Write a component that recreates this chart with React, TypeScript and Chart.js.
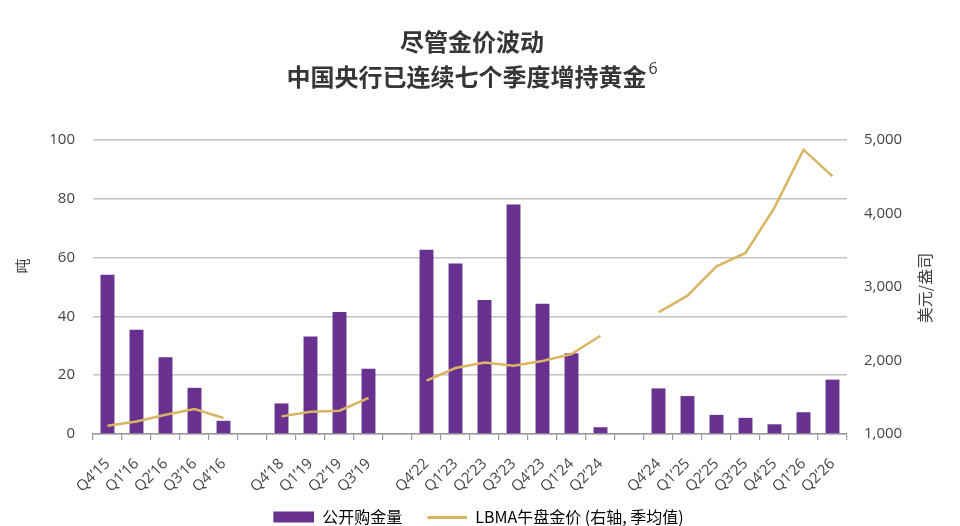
import React, { useEffect, useRef } from "react";
import { Chart, registerables } from "chart.js";

Chart.register(...registerables);

const categories = [
  "Q4’15", "Q1’16", "Q2’16", "Q3’16", "Q4’16", "",
  "Q4’18", "Q1’19", "Q2’19", "Q3’19", "",
  "Q4’22", "Q1’23", "Q2’23", "Q3’23", "Q4’23", "Q1’24", "Q2’24", "",
  "Q4’24", "Q1’25", "Q2’25", "Q3’25", "Q4’25", "Q1’26", "Q2’26",
];

const purchases = [
  54.2, 35.5, 26.1, 15.7, 4.5, null,
  10.4, 33.2, 41.5, 22.2, null,
  62.7, 58.0, 45.6, 78.1, 44.3, 27.5, 2.3, null,
  15.5, 12.9, 6.5, 5.5, 3.3, 7.4, 18.5,
];

const goldPrice = [
  1113, 1171, 1263, 1340, 1218, null,
  1240, 1303, 1317, 1490, null,
  1725, 1898, 1974, 1929, 1993, 2088, 2337, null,
  2655, 2882, 3281, 3463, 4080, 4868, 4505,
];

const titleLine1 = "尽管金价波动";
const titleLine2 = "中国央行已连续七个季度增持黄金";
const titleSup = "6";
const leftAxisTitle = "吨";
const rightAxisTitle = "美元/盎司";
const barLabel = "公开购金量";
const lineLabel = "LBMA午盘金价 (右轴, 季均值)";

const PURPLE = "#68308f";
const GOLD = "#d9b563";
const TEXT = "#444444";
const FONT = "'Open Sans', 'Noto Sans CJK SC', sans-serif";
const CJK = "'Noto Sans CJK SC', 'Open Sans', sans-serif";

function makeSwatch(kind: "bar" | "line"): HTMLCanvasElement {
  const c = document.createElement("canvas");
  c.width = 50;
  c.height = 12;
  const g = c.getContext("2d")!;
  if (kind === "bar") {
    g.fillStyle = PURPLE;
    g.fillRect(9, 0.5, 41, 11);
  } else {
    g.strokeStyle = GOLD;
    g.lineWidth = 3;
    g.beginPath();
    g.moveTo(10, 6.5);
    g.lineTo(50, 6.5);
    g.stroke();
  }
  return c;
}

const textPlugin = {
  id: "customTexts",
  afterDraw(chart: any) {
    const ctx = chart.ctx as CanvasRenderingContext2D;
    ctx.save();
    ctx.fillStyle = "#363636";
    ctx.textBaseline = "middle";
    ctx.font = `bold 24px ${CJK}`;
    ctx.textAlign = "center";
    ctx.fillText(titleLine1, 472, 42);
    const w2 = ctx.measureText(titleLine2).width;
    ctx.font = `16px ${FONT}`;
    const ws = ctx.measureText(titleSup).width;
    const total = w2 + 2 + ws;
    const x0 = 472 - total / 2;
    ctx.textAlign = "left";
    ctx.font = `bold 24px ${CJK}`;
    ctx.fillText(titleLine2, x0, 77);
    ctx.font = `16px ${FONT}`;
    ctx.fillText(titleSup, x0 + w2 + 2, 69);

    ctx.fillStyle = TEXT;
    ctx.textAlign = "center";
    ctx.font = `15px ${CJK}`;
    ctx.save();
    ctx.translate(22, 266);
    ctx.rotate(-Math.PI / 2);
    ctx.fillText(leftAxisTitle, 0, 0);
    ctx.restore();
    ctx.save();
    ctx.translate(925, 288);
    ctx.rotate(-Math.PI / 2);
    ctx.font = `16px ${CJK}`;
    ctx.fillText(rightAxisTitle, 0, 0);
    ctx.restore();
    ctx.restore();
  },
};

export default function App() {
  const ref = useRef<HTMLCanvasElement | null>(null);

  useEffect(() => {
    if (!ref.current) return;
    const barSwatch = makeSwatch("bar");
    const lineSwatch = makeSwatch("line");
    const chart = new Chart(ref.current, {
      data: {
        labels: categories,
        datasets: [
          {
            type: "line",
            label: lineLabel,
            data: goldPrice,
            yAxisID: "y1",
            borderColor: GOLD,
            backgroundColor: GOLD,
            borderWidth: 2.5,
            pointRadius: 0,
            tension: 0,
            spanGaps: false,
            order: 0,
          },
          {
            type: "bar",
            label: barLabel,
            data: purchases,
            yAxisID: "y",
            backgroundColor: PURPLE,
            borderWidth: 0,
            barPercentage: 0.48,
            categoryPercentage: 1.0,
            order: 1,
          },
        ],
      } as any,
      options: {
        responsive: false,
        animation: false,
        events: [],
        layout: { padding: { top: 140, left: 0, right: 12, bottom: -9 } },
        font: { family: FONT },
        plugins: {
          title: { display: false },
          tooltip: { enabled: false },
          legend: {
            display: true,
            position: "bottom",
            labels: {
              usePointStyle: true,
              pointStyleWidth: 50,
              padding: 15,
              color: TEXT,
              font: { size: 16, family: CJK },
              generateLabels: () => [
                {
                  text: barLabel,
                  pointStyle: barSwatch,
                  fillStyle: PURPLE,
                  strokeStyle: PURPLE,
                  lineWidth: 0,
                  hidden: false,
                  datasetIndex: 1,
                },
                {
                  text: lineLabel,
                  pointStyle: lineSwatch,
                  fillStyle: GOLD,
                  strokeStyle: GOLD,
                  lineWidth: 0,
                  hidden: false,
                  datasetIndex: 0,
                },
              ],
            },
          },
        },
        scales: {
          x: {
            type: "category",
            offset: true,
            grid: {
              offset: true,
              drawOnChartArea: false,
              drawTicks: true,
              tickLength: 6,
              color: "#9a9a9a",
              lineWidth: 1.2,
            },
            border: { display: true, color: "#9a9a9a", width: 1.5 },
            ticks: {
              autoSkip: false,
              maxRotation: 45,
              minRotation: 45,
              padding: 15,
              color: TEXT,
              font: { size: 15, family: FONT },
            },
            afterFit: (s: any) => {
              s.height = 60;
            },
          },
          y: {
            type: "linear",
            position: "left",
            min: 0,
            max: 100,
            ticks: {
              stepSize: 20,
              padding: 18,
              color: TEXT,
              font: { size: 15, family: FONT },
            },
            grid: { color: "#c2c2c2", lineWidth: 1.5, drawTicks: false },
            border: { display: false },
            afterFit: (s: any) => {
              s.width = 93;
            },
          },
          y1: {
            type: "linear",
            position: "right",
            min: 1000,
            max: 5000,
            ticks: {
              stepSize: 1000,
              padding: 17,
              color: TEXT,
              font: { size: 15, family: FONT },
              callback: (v: any) => Number(v).toLocaleString("en-US"),
            },
            grid: { display: false, drawTicks: false },
            border: { display: false },
            afterFit: (s: any) => {
              s.width = 101;
            },
          },
        },
      } as any,
      plugins: [textPlugin],
    });
    return () => chart.destroy();
  }, []);

  return (
    <div
      style={{
        position: "fixed",
        left: 0,
        top: 0,
        width: 960,
        height: 526,
        background: "#ffffff",
      }}
    >
      <canvas ref={ref} width={960} height={526} style={{ width: 960, height: 526, display: "block" }} />
    </div>
  );
}
